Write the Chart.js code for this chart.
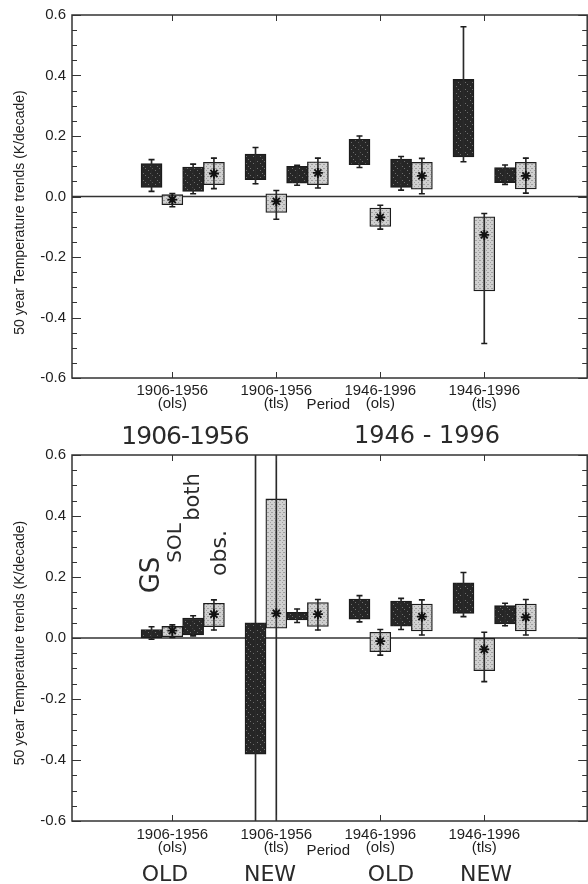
<!DOCTYPE html>
<html>
<head>
<meta charset="utf-8">
<title>50 year temperature trends</title>
<script src="https://cdn.jsdelivr.net/npm/chart.js@4.4.1/dist/chart.umd.min.js"></script>
<style>
  html, body { margin: 0; padding: 0; background: #fff; }
  body { position: relative; width: 588px; height: 884px; overflow: hidden; }
  canvas { position: absolute; left: 0; }
  #upper { top: 0; }
  #lower { top: 420px; }
  .hand { position: absolute; font-family: "DejaVu Sans", sans-serif; font-weight: 400; color: #2a2a2a; line-height: 1; white-space: nowrap; transform: translate(-50%, -50%); }
  .hand.up { transform: translate(-50%, -50%) rotate(-90deg); }
</style>
</head>
<body>
<canvas id="upper" width="594" height="415"></canvas>
<canvas id="lower" width="594" height="464"></canvas>

<!-- pencil notes -->
<div class="hand" style="left:185px;top:435px;font-size:25px;letter-spacing:-1px">1906-1956</div>
<div class="hand" style="left:427px;top:435px;font-size:24px">1946 - 1996</div>
<div class="hand up" style="left:150px;top:575px;font-size:26px">GS</div>
<div class="hand up" style="left:174px;top:543px;font-size:20px">SOL</div>
<div class="hand up" style="left:192px;top:497px;font-size:21px">both</div>
<div class="hand up" style="left:219px;top:553px;font-size:22px">obs.</div>
<div class="hand" style="left:165px;top:874px;font-size:22px">OLD</div>
<div class="hand" style="left:270px;top:874px;font-size:22px">NEW</div>
<div class="hand" style="left:391px;top:874px;font-size:22px">OLD</div>
<div class="hand" style="left:486px;top:874px;font-size:22px">NEW</div>

<script>
// periods on the x axis
const periodPos = [1, 2, 3, 4];
const periodLabels = [['1906-1956', '(ols)'], ['1906-1956', '(tls)'], ['1946-1996', '(ols)'], ['1946-1996', '(tls)']];
const yTicks = [-0.6, -0.4, -0.2, 0, 0.2, 0.4, 0.6];

// upper panel: box = [lo, hi], err = whisker [lo, hi], mid = best estimate (*)
const upGsBox   = [[0.030, 0.109], [0.056, 0.140], [0.105, 0.189], [0.131, 0.387]];
const upGsErr   = [[0.017, 0.122], [0.042, 0.162], [0.096, 0.200], [0.115, 0.561]];
const upSolBox  = [[-0.027, 0.006], [-0.053, 0.009], [-0.099, -0.038], [-0.312, -0.067]];
const upSolErr  = [[-0.034, 0.010], [-0.075, 0.020], [-0.108, -0.029], [-0.486, -0.056]];
const upSolMid  = [-0.010, -0.016, -0.069, -0.127];
const upBothBox = [[0.017, 0.097], [0.044, 0.100], [0.030, 0.124], [0.046, 0.096]];
const upBothErr = [[0.009, 0.107], [0.037, 0.103], [0.021, 0.132], [0.040, 0.104]];
const upObsBox  = [[0.039, 0.113], [0.039, 0.115], [0.024, 0.113], [0.025, 0.113]];
const upObsErr  = [[0.026, 0.127], [0.028, 0.127], [0.009, 0.126], [0.011, 0.127]];
const upObsMid  = [0.076, 0.078, 0.068, 0.068];

// lower panel (1906-1956 tls whiskers run off the scale)
const loGsBox   = [[0.000, 0.028], [-0.381, 0.050], [0.062, 0.128], [0.081, 0.181]];
const loGsErr   = [[-0.004, 0.037], [-0.80, 0.80], [0.053, 0.139], [0.070, 0.215]];
const loSolBox  = [[0.004, 0.038], [0.032, 0.456], [-0.045, 0.019], [-0.107, -0.001]];
const loSolErr  = [[0.002, 0.043], [-0.80, 0.80], [-0.056, 0.028], [-0.143, 0.019]];
const loSolMid  = [0.024, 0.081, -0.010, -0.037];
const loBothBox = [[0.010, 0.065], [0.059, 0.084], [0.039, 0.121], [0.046, 0.106]];
const loBothErr = [[0.007, 0.073], [0.051, 0.095], [0.028, 0.130], [0.040, 0.114]];
const loObsBox  = [[0.037, 0.114], [0.038, 0.116], [0.023, 0.111], [0.023, 0.111]];
const loObsErr  = [[0.026, 0.125], [0.026, 0.126], [0.010, 0.125], [0.010, 0.126]];
const loObsMid  = [0.078, 0.078, 0.070, 0.068];

const INK = '#1c1c1c';
Chart.defaults.font.family = '"Liberation Sans", Arial, Helvetica, sans-serif';
Chart.defaults.color = '#1e1e1e';

// stipple fills, a bit like the printed screens
function tile(size, base, dot, dots) {
  const c = document.createElement('canvas');
  c.width = c.height = size;
  const g = c.getContext('2d');
  g.fillStyle = base; g.fillRect(0, 0, size, size);
  g.fillStyle = dot;
  dots.forEach(([px, py]) => g.fillRect(px, py, 1, 1));
  return g.createPattern(c, 'repeat');
}
const darkFill = tile(7, '#262626', '#6e6e6e', [[1, 2], [5, 0], [3, 5]]);
const lightFill = tile(4, '#d0d0d0', '#a0a0a0', [[0, 0], [2, 2], [3, 0]]);

// frame, inward ticks, zero line and axis titles
const frame = {
  id: 'frame',
  beforeDatasetsDraw(chart) {
    const { ctx, chartArea: a, scales: { y } } = chart;
    const y0 = y.getPixelForValue(0);
    ctx.save();
    ctx.strokeStyle = '#333';
    ctx.lineWidth = 1.7;
    ctx.beginPath(); ctx.moveTo(a.left, y0); ctx.lineTo(a.right, y0); ctx.stroke();
    ctx.restore();
  },
  afterDraw(chart, args, opts) {
    const { ctx, chartArea: a, scales: { x, y } } = chart;
    ctx.save();
    ctx.strokeStyle = '#333';
    ctx.lineWidth = 1.5;
    ctx.strokeRect(a.left, a.top, a.right - a.left, a.bottom - a.top);
    ctx.lineWidth = 1;
    ctx.beginPath();
    for (let k = -12; k <= 12; k++) {
      const py = Math.round(y.getPixelForValue(k * 0.05)) + 0.5;
      const len = k % 4 === 0 ? 9 : 5;
      ctx.moveTo(a.left, py); ctx.lineTo(a.left + len, py);
      ctx.moveTo(a.right, py); ctx.lineTo(a.right - len, py);
    }
    periodPos.forEach(p => {
      const px = Math.round(x.getPixelForValue(p)) + 0.5;
      ctx.moveTo(px, a.top); ctx.lineTo(px, a.top + 6);
      ctx.moveTo(px, a.bottom); ctx.lineTo(px, a.bottom - 6);
    });
    ctx.stroke();

    ctx.fillStyle = '#1e1e1e';
    ctx.textAlign = 'center';
    ctx.textBaseline = 'middle';
    ctx.font = '15px "Liberation Sans", Arial, sans-serif';
    ctx.fillText('Period', x.getPixelForValue(2.5), a.bottom + opts.periodDy);
    ctx.font = '14px "Liberation Sans", Arial, sans-serif';
    ctx.translate(20, (a.top + a.bottom) / 2 + opts.titleDy);
    ctx.rotate(-Math.PI / 2);
    ctx.fillText('50 year Temperature trends (K/decade)', 0, 0);
    ctx.restore();
  }
};

function boxes(box, off, fill) {
  return {
    type: 'bar', order: 3, clip: 0, grouped: false,
    data: box.map((r, i) => ({ x: periodPos[i] + off, y: r })),
    backgroundColor: fill, borderColor: INK, borderWidth: 1.3, borderSkipped: false,
    barThickness: 21
  };
}
function stems(err, off) {
  return {
    type: 'bar', order: 2, clip: 0, grouped: false,
    data: err.map((r, i) => ({ x: periodPos[i] + off, y: r })),
    backgroundColor: '#2a2a2a', borderWidth: 0, barThickness: 1
  };
}
function caps(err, off) {
  return {
    type: 'scatter', order: 1, clip: 0,
    data: err.flatMap((r, i) => [{ x: periodPos[i] + off, y: r[0] }, { x: periodPos[i] + off, y: r[1] }]),
    pointStyle: 'line', radius: 3, borderWidth: 1.6, borderColor: INK
  };
}
function stars(mid, off) {
  return {
    type: 'scatter', order: 0, clip: 0,
    data: mid.map((v, i) => ({ x: periodPos[i] + off, y: v })),
    pointStyle: 'star', radius: 5, borderWidth: 1.8, borderColor: '#111'
  };
}

function panel(id, s, frameOpts, tickPad) {
  // GS, SOL, both, obs side by side inside each period
  const groups = [
    { off: -0.2, box: s.gsBox, err: s.gsErr, fill: darkFill },
    { off: 0, box: s.solBox, err: s.solErr, mid: s.solMid, fill: lightFill },
    { off: 0.2, box: s.bothBox, err: s.bothErr, fill: darkFill },
    { off: 0.4, box: s.obsBox, err: s.obsErr, mid: s.obsMid, fill: lightFill }
  ];
  const datasets = [];
  groups.forEach(g => {
    datasets.push(boxes(g.box, g.off, g.fill), stems(g.err, g.off), caps(g.err, g.off));
    if (g.mid) datasets.push(stars(g.mid, g.off));
  });
  const canvas = document.getElementById(id);
  return new Chart(canvas, {
    type: 'bar',
    data: { datasets },
    options: {
      responsive: false,
      animation: false,
      devicePixelRatio: 1,
      events: [],
      layout: { padding: { top: frameOpts.top, right: 2, left: 0, bottom: 0 } },
      plugins: {
        legend: { display: false },
        tooltip: { enabled: false },
        frame: frameOpts
      },
      scales: {
        x: {
          type: 'linear', min: 0.035, max: 4.99, offset: false,
          grid: { display: false, drawTicks: false, offset: false },
          border: { display: false },
          afterBuildTicks: sc => { sc.ticks = periodPos.map(v => ({ value: v })); },
          afterFit: sc => { sc.height = frameOpts.axisH; },
          ticks: {
            autoSkip: false, maxRotation: 0, padding: tickPad,
            font: { size: 15, lineHeight: 0.9 },
            callback: (v, i) => periodLabels[i]
          }
        },
        y: {
          min: -0.6, max: 0.6,
          grid: { display: false, drawTicks: false },
          border: { display: false },
          afterBuildTicks: sc => { sc.ticks = yTicks.map(v => ({ value: v })); },
          afterFit: sc => { sc.width = 72; },
          ticks: { padding: 6, font: { size: 15 }, callback: v => v.toFixed(1) }
        }
      }
    },
    plugins: [frame]
  });
}

panel('upper', {
  gsBox: upGsBox, gsErr: upGsErr, solBox: upSolBox, solErr: upSolErr, solMid: upSolMid,
  bothBox: upBothBox, bothErr: upBothErr, obsBox: upObsBox, obsErr: upObsErr, obsMid: upObsMid
}, { top: 11, axisH: 37, periodDy: 27, titleDy: 16 }, 6);

panel('lower', {
  gsBox: loGsBox, gsErr: loGsErr, solBox: loSolBox, solErr: loSolErr, solMid: loSolMid,
  bothBox: loBothBox, bothErr: loBothErr, obsBox: loObsBox, obsErr: loObsErr, obsMid: loObsMid
}, { top: 35, axisH: 63, periodDy: 30, titleDy: 5 }, 7);
</script>
</body>
</html>
